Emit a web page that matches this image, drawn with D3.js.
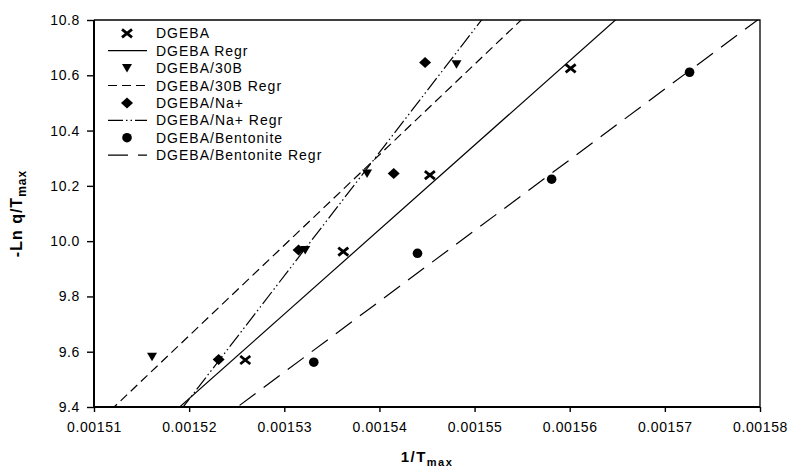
<!DOCTYPE html>
<html>
<head>
<meta charset="utf-8">
<script src="https://cdn.jsdelivr.net/npm/d3@7"></script>
<style>
  html, body { margin: 0; padding: 0; background: #fff; }
  svg { display: block; font-family: "Liberation Sans", Arial, sans-serif; }
</style>
</head>
<body>
<div id="chart"></div>
<script>
// ---- data ----
const xTicks = [0.00151, 0.00152, 0.00153, 0.00154, 0.00155, 0.00156, 0.00157, 0.00158];
const yTicks = [9.4, 9.6, 9.8, 10.0, 10.2, 10.4, 10.6, 10.8];

const dgebaX = [0.0015259, 0.0015362, 0.0015453, 0.0015601];
const dgebaY = [9.570, 9.962, 10.239, 10.625];
const b30X   = [0.0015161, 0.0015322, 0.0015387, 0.0015481];
const b30Y   = [9.582, 9.968, 10.245, 10.640];
const naX    = [0.0015231, 0.0015315, 0.0015415, 0.0015448];
const naY    = [9.572, 9.968, 10.245, 10.646];
const bentX  = [0.0015331, 0.0015440, 0.0015581, 0.0015726];
const bentY  = [9.562, 9.956, 10.224, 10.611];

const seriesNames = ["DGEBA", "DGEBA/30B", "DGEBA/Na+", "DGEBA/Bentonite"];

// ---- custom marker shapes ----
const symX = { draw(c) { c.moveTo(-5, -4); c.lineTo(5, 4); c.moveTo(-5, 4); c.lineTo(5, -4); } };
const symTri = { draw(c) { c.moveTo(-5, -4); c.lineTo(5, -4); c.lineTo(0, 4.5); c.closePath(); } };
const symDia = { draw(c) { c.moveTo(-6, 0); c.lineTo(0, -5.5); c.lineTo(6, 0); c.lineTo(0, 5.5); c.closePath(); } };
const symDot = { draw(c) { c.moveTo(4.8, 0); c.arc(0, 0, 4.8, 0, 2 * Math.PI); } };

const series = [
  { name: seriesNames[0], xs: dgebaX, ys: dgebaY, sym: symX,   stroke: true, dash: null },
  { name: seriesNames[1], xs: b30X,   ys: b30Y,   sym: symTri, stroke: false, dash: "9,5" },
  { name: seriesNames[2], xs: naX,    ys: naY,    sym: symDia, stroke: false, dash: "15,3,1.5,3,1.5,3" },
  { name: seriesNames[3], xs: bentX,  ys: bentY,  sym: symDot, stroke: false, dash: "20,10" },
];

// least squares fit for the "Regr" lines
function fit(xs, ys) {
  const mx = d3.mean(xs), my = d3.mean(ys);
  let sxy = 0, sxx = 0;
  xs.forEach((x, i) => { sxy += (x - mx) * (ys[i] - my); sxx += (x - mx) * (x - mx); });
  const b = sxy / sxx;
  return { b, a: my - b * mx };
}

const width = 790, height = 468;
const margin = { top: 20, right: 30, bottom: 61, left: 94 };

const svg = d3.select("#chart").append("svg")
  .attr("width", width).attr("height", height);

const x = d3.scaleLinear().domain([0.00151, 0.00158]).range([margin.left, width - margin.right]);
const y = d3.scaleLinear().domain([9.4, 10.8]).range([height - margin.bottom, margin.top]);

svg.append("clipPath").attr("id", "plot")
  .append("rect")
  .attr("x", margin.left).attr("y", margin.top)
  .attr("width", width - margin.left - margin.right)
  .attr("height", height - margin.top - margin.bottom);

// regression lines
const lines = svg.append("g").attr("clip-path", "url(#plot)");
series.forEach(s => {
  const f = fit(s.xs, s.ys);
  const x0 = x.domain()[0] - 0.00001, x1 = x.domain()[1] + 0.00001;
  lines.append("line")
    .attr("x1", x(x0)).attr("y1", y(f.a + f.b * x0))
    .attr("x2", x(x1)).attr("y2", y(f.a + f.b * x1))
    .attr("stroke", "#000")
    .attr("stroke-width", 1.2)
    .attr("stroke-dasharray", s.dash);
});

// frame (top + right)
svg.append("path")
  .attr("d", `M${margin.left},${margin.top}H${width - margin.right}V${height - margin.bottom}`)
  .attr("fill", "none").attr("stroke", "#000").attr("stroke-width", 1.3);

// axes
const xAxis = svg.append("g")
  .attr("transform", `translate(0,${height - margin.bottom})`)
  .call(d3.axisBottom(x).tickValues(xTicks).tickFormat(d3.format(".5f")).tickSize(5).tickPadding(10));
const yAxis = svg.append("g")
  .attr("transform", `translate(${margin.left},0)`)
  .call(d3.axisLeft(y).tickValues(yTicks).tickFormat(d3.format(".1f")).tickSize(7).tickPadding(7));

[xAxis, yAxis].forEach(g => {
  g.select(".domain").attr("d", null);
  g.selectAll(".tick line").attr("stroke-width", 1.4);
  g.selectAll("text")
    .attr("font-family", "Liberation Sans, Arial, sans-serif")
    .attr("font-size", 14)
    .attr("letter-spacing", "0.6px")
    .attr("fill", "#000");
});
svg.append("path")
  .attr("d", `M${margin.left},${margin.top}V${height - margin.bottom}H${width - margin.right}`)
  .attr("fill", "none").attr("stroke", "#000").attr("stroke-width", 2);

// markers
series.forEach(s => {
  svg.append("g").selectAll("path")
    .data(s.xs.map((v, i) => [v, s.ys[i]]))
    .join("path")
    .attr("transform", d => `translate(${x(d[0])},${y(d[1])})`)
    .attr("d", d3.symbol().type(s.sym)())
    .attr("fill", s.stroke ? "none" : "#000")
    .attr("stroke", s.stroke ? "#000" : "none")
    .attr("stroke-width", 2.8);
});

// legend
const legend = svg.append("g").attr("transform", "translate(0,33.3)");
const rowH = 17.4;
series.forEach((s, i) => {
  const r1 = legend.append("g").attr("transform", `translate(0,${i * 2 * rowH})`);
  r1.append("path")
    .attr("transform", "translate(127,0)")
    .attr("d", d3.symbol().type(s.sym)())
    .attr("fill", s.stroke ? "none" : "#000")
    .attr("stroke", s.stroke ? "#000" : "none")
    .attr("stroke-width", 2.8);
  r1.append("text").attr("x", 156).attr("dy", "0.36em").text(s.name);

  const r2 = legend.append("g").attr("transform", `translate(0,${(i * 2 + 1) * rowH})`);
  r2.append("line")
    .attr("x1", 108).attr("x2", 147)
    .attr("stroke", "#000").attr("stroke-width", 1.2)
    .attr("stroke-dasharray", s.dash);
  r2.append("text").attr("x", 156).attr("dy", "0.36em").text(s.name + " Regr");
});
legend.selectAll("text")
  .attr("font-size", 14)
  .attr("letter-spacing", "1px")
  .attr("fill", "#000");

// axis titles
const xt = svg.append("text")
  .attr("x", (margin.left + width - margin.right) / 2)
  .attr("y", 462)
  .attr("text-anchor", "middle")
  .attr("font-weight", "bold")
  .attr("font-size", 15)
  .attr("letter-spacing", "1.5px");
xt.append("tspan").text("1/T");
xt.append("tspan").attr("font-size", 11).attr("dy", 4).text("max");

const yt = svg.append("text")
  .attr("transform", `translate(22,${(margin.top + height - margin.bottom) / 2}) rotate(-90)`)
  .attr("text-anchor", "middle")
  .attr("font-weight", "bold")
  .attr("font-size", 16)
  .attr("letter-spacing", "1px");
yt.append("tspan").text("-Ln q/T");
yt.append("tspan").attr("font-size", 12).attr("dy", 4).text("max");
</script>
</body>
</html>
